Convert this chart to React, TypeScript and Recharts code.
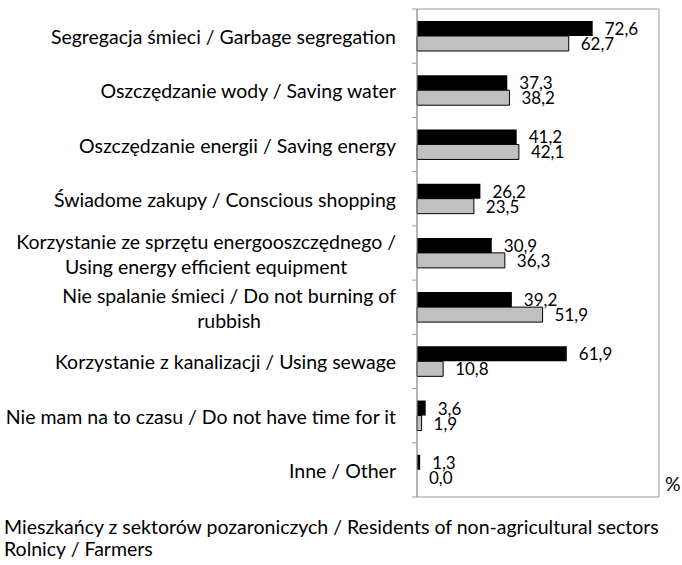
import React from 'react';
import { BarChart, Bar, XAxis, YAxis, LabelList, ReferenceArea } from 'recharts';

const categories = [
  'Segregacja śmieci / Garbage segregation',
  'Oszczędzanie wody / Saving water',
  'Oszczędzanie energii / Saving energy',
  'Świadome zakupy / Conscious shopping',
  'Korzystanie ze sprzętu energooszczędnego / Using energy efficient equipment',
  'Nie spalanie śmieci / Do not burning of rubbish',
  'Korzystanie z kanalizacji / Using sewage',
  'Nie mam na to czasu / Do not have time for it',
  'Inne / Other',
];
const residents = [72.6, 37.3, 41.2, 26.2, 30.9, 39.2, 61.9, 3.6, 1.3];
const farmers = [62.7, 38.2, 42.1, 23.5, 36.3, 51.9, 10.8, 1.9, 0.0];
const seriesNames = [
  'Mieszkańcy z sektorów pozaroniczych / Residents of non-agricultural sectors',
  'Rolnicy / Farmers',
];

const data = categories.map((name, i) => ({ name, residents: residents[i], farmers: farmers[i] }));

const FONT = 'Lato, "DejaVu Sans", sans-serif';
const FONT_SIZE = 19.5;
const LABEL_SIZE = 17;
const W = 682;
const H = 565;
const PLOT_LEFT = 417;
const PLOT_TOP = 9;
const PLOT_BOTTOM = 497;
const BAND = (PLOT_BOTTOM - PLOT_TOP) / categories.length;
const WRAP_WIDTH = 394;
const LINE_H = 25;
const LABEL_GAP = 12;
const AXIS_GRAY = '#9a9a9a';

let ctx: CanvasRenderingContext2D | null = null;
const measure = (s: string) => {
  if (!ctx) {
    ctx = document.createElement('canvas').getContext('2d');
    if (ctx) ctx.font = `${FONT_SIZE}px ${FONT}`;
  }
  return ctx ? ctx.measureText(s).width : s.length * 9.5;
};

// excel-like wrapping: break on words when the line gets too wide
const wrap = (text: string) => {
  const words = text.split(' ');
  const lines: string[] = [];
  let cur = '';
  words.forEach(w => {
    const next = cur ? cur + ' ' + w : w;
    if (cur && measure(next) > WRAP_WIDTH) {
      lines.push(cur);
      cur = w;
    } else {
      cur = next;
    }
  });
  if (cur) lines.push(cur);
  return lines;
};

const CategoryTick = (props: any) => {
  const { x, y, payload, index } = props;
  const lines = wrap(payload.value);
  const right = x - 21;
  const blockW = Math.max(...lines.map(measure));
  const multi = lines.length > 1;
  const tx = multi ? right - blockW / 2 : right;
  const y0 = y - ((lines.length - 1) * LINE_H) / 2;
  const isLast = index === categories.length - 1;
  return (
    <g>
      <line x1={x - 5} x2={x} y1={y - BAND / 2} y2={y - BAND / 2} stroke={AXIS_GRAY} />
      {isLast && <line x1={x - 5} x2={x} y1={y + BAND / 2} y2={y + BAND / 2} stroke={AXIS_GRAY} />}
      <text
        x={tx}
        y={y0}
        textAnchor={multi ? 'middle' : 'end'}
        dominantBaseline="central"
        fontFamily={FONT}
        fontSize={FONT_SIZE}
        fill="#000"
      >
        {lines.map((l, i) => (
          <tspan key={i} x={tx} dy={i === 0 ? 0 : LINE_H}>
            {l}
          </tspan>
        ))}
      </text>
    </g>
  );
};

const fmt = (v: any) => Number(v).toFixed(1).replace('.', ',');

const valueText = (x: number, y: number, v: number, key?: string) => (
  <text key={key} x={x} y={y} dominantBaseline="central" fontFamily={FONT} fontSize={LABEL_SIZE} fill="#000">
    {fmt(v)}
  </text>
);

// residents label; also prints the farmers value when that bar has zero length
// (recharts drops zero-length bars, and their labels with them)
const ResidentsLabel = (props: any) => {
  const { x, y, width, height, value, index } = props;
  const bx = Number(x);
  const by = Number(y);
  const bh = Number(height);
  return (
    <g>
      {valueText(bx + Number(width || 0) + LABEL_GAP, by + bh / 2, value)}
      {farmers[index] === 0 && valueText(bx + LABEL_GAP, by + bh * 1.5, farmers[index])}
    </g>
  );
};

const FarmersLabel = (props: any) => {
  const { x, y, width, height, value } = props;
  if (value === undefined || value === null) return null;
  return valueText(Number(x) + Number(width || 0) + LABEL_GAP, Number(y) + Number(height) / 2, value);
};

export default function App() {
  return (
    <div style={{ position: 'absolute', left: 0, top: 0, width: W, height: H, background: '#fff', fontFamily: FONT }}>
      <BarChart
        width={W}
        height={H}
        data={data}
        layout="vertical"
        margin={{ top: PLOT_TOP, right: W - 659, bottom: H - PLOT_BOTTOM, left: 0 }}
        barGap={0}
        barSize={15}
      >
        <XAxis type="number" domain={[0, 100]} hide />
        <YAxis
          type="category"
          dataKey="name"
          width={PLOT_LEFT}
          tick={<CategoryTick />}
          tickLine={false}
          tickSize={0}
          tickMargin={0}
          axisLine={{ stroke: AXIS_GRAY }}
          interval={0}
        />
        <ReferenceArea x1={0} x2={100} fill="none" fillOpacity={0} stroke={AXIS_GRAY} strokeWidth={1} ifOverflow="visible" />
        <Bar dataKey="residents" name={seriesNames[0]} fill="#000" isAnimationActive={false}>
          <LabelList dataKey="residents" content={<ResidentsLabel />} />
        </Bar>
        <Bar dataKey="farmers" name={seriesNames[1]} fill="#c0c0c0" stroke="#000" strokeWidth={1} isAnimationActive={false}>
          <LabelList dataKey="farmers" content={<FarmersLabel />} />
        </Bar>
      </BarChart>
      <div style={{ position: 'absolute', left: 665, top: 472, fontSize: FONT_SIZE, lineHeight: '24px' }}>%</div>
      <div style={{ position: 'absolute', left: 4, top: 516, fontSize: FONT_SIZE, lineHeight: '22px', whiteSpace: 'nowrap' }}>
        {seriesNames.map(s => (
          <div key={s}>{s}</div>
        ))}
      </div>
    </div>
  );
}
